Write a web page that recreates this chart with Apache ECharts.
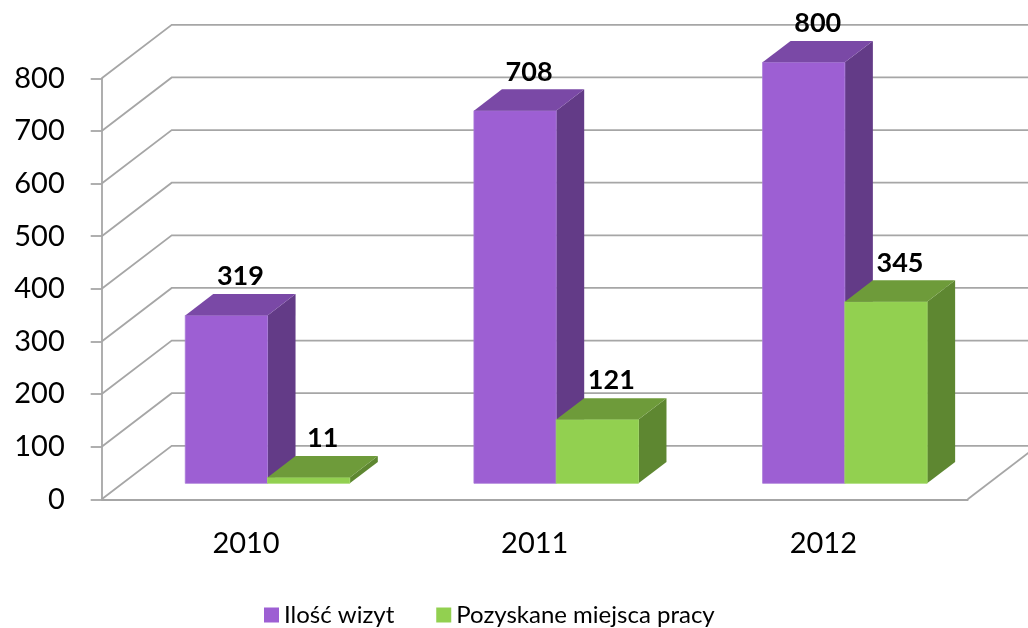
<!DOCTYPE html>
<html>
<head>
<meta charset="utf-8">
<script src="https://cdn.jsdelivr.net/npm/echarts@6/dist/echarts.min.js"></script>
<style>
  html, body { margin: 0; padding: 0; background: #fff; }
  #chart { width: 1028px; height: 628px; }
</style>
</head>
<body>
<div id="chart"></div>
<script>
var years = ['2010', '2011', '2012'];
var visits = [319, 708, 800];
var jobs = [11, 121, 345];
var yTicks = [0, 100, 200, 300, 400, 500, 600, 700, 800];
var seriesNames = ['Ilość wizyt', 'Pozyskane miejsca pracy'];

(function() {
  var font = 'Lato, "Open Sans", sans-serif';
  var gridColor = '#A6A6A6';

  // depth of the walls and of the bars, in pixels
  var wallDx = 70, wallDy = -53.5;
  var barOx = 21.5, barOy = -16;
  var barDx = 28, barDy = -21.4;
  var barRatio = 0.285;

  var purple = { front: '#9D5FD3', top: '#7A49A6', side: '#633B87', edge: '#A878D8' };
  var green = { front: '#92D050', top: '#6E9B3A', side: '#5E8731', edge: '#9ED862' };

  function wallItem(params, api) {
    var cs = params.coordSys;
    var y = api.coord([0, api.value(1)])[1];
    var x0 = cs.x;
    var children = [{
      type: 'polyline',
      shape: { points: [[x0, y], [x0 + wallDx, y + wallDy], [1100, y + wallDy]] },
      style: { stroke: gridColor, lineWidth: 1.8, fill: null }
    }];
    if (api.value(1) === 0) {
      var xr = cs.x + cs.width;
      children.push({
        type: 'line',
        shape: { x1: xr, y1: y, x2: xr + wallDx, y2: y + wallDy },
        style: { stroke: gridColor, lineWidth: 1.8 }
      });
    }
    return { type: 'group', children: children };
  }

  function barRenderer(side, pal) {
    return function(params, api) {
      var i = api.value(0), v = api.value(1);
      var base = api.coord([i, 0]);
      var yTop = api.coord([i, v])[1] + barOy;
      var w = api.size([1, 0])[0] * barRatio;
      var xL = base[0] + side * w + barOx;
      var xR = xL + w;
      var yB = base[1] + barOy;
      return {
        type: 'group',
        children: [{
          type: 'polygon',
          shape: { points: [[xR, yTop], [xR + barDx, yTop + barDy], [xR + barDx, yB + barDy], [xR, yB]] },
          style: { fill: pal.side }
        }, {
          type: 'rect',
          shape: { x: xL, y: yTop, width: w, height: yB - yTop },
          style: { fill: pal.front, stroke: pal.edge, lineWidth: 0.8 }
        }, {
          type: 'polygon',
          shape: { points: [[xL, yTop], [xR, yTop], [xR + barDx, yTop + barDy], [xL + barDx, yTop + barDy]] },
          style: { fill: pal.top }
        }, {
          type: 'text',
          style: {
            x: xL + w / 2 + barDx / 2,
            y: yTop + barDy - 17.5,
            text: String(v),
            align: 'center',
            verticalAlign: 'middle',
            fill: '#000',
            font: 'bold 27px ' + font
          }
        }]
      };
    };
  }

  var chart = echarts.init(document.getElementById('chart'), null, { renderer: 'canvas' });
  chart.setOption({
    animation: false,
    backgroundColor: '#fff',
    textStyle: { fontFamily: font },
    grid: { left: 101.7, top: 78.3, width: 866, height: 421 },
    legend: {
      data: seriesNames,
      left: 259,
      top: 598,
      icon: 'rect',
      itemWidth: 15,
      itemHeight: 15,
      itemGap: 42,
      textStyle: { fontSize: 24, color: '#000', fontFamily: font }
    },
    xAxis: {
      type: 'category',
      data: years,
      axisLine: { lineStyle: { color: gridColor, width: 1.8 } },
      axisTick: { length: 11, lineStyle: { color: gridColor, width: 1.8 } },
      axisLabel: { color: '#000', fontSize: 29, margin: 30 },
      splitLine: { show: false }
    },
    yAxis: {
      type: 'value',
      min: 0,
      max: 800,
      interval: 100,
      axisLine: { show: true, lineStyle: { color: gridColor, width: 1.8 } },
      axisTick: { show: true, length: 11, lineStyle: { color: gridColor, width: 1.8 } },
      axisLabel: { color: '#000', fontSize: 29, margin: 37 },
      splitLine: { show: false }
    },
    series: [{
      type: 'custom',
      name: 'walls',
      silent: true,
      z: 1,
      renderItem: wallItem,
      encode: { x: 0, y: 1 },
      data: yTicks.map(function(v) { return [0, v]; })
    }, {
      type: 'custom',
      name: seriesNames[0],
      z: 2,
      itemStyle: { color: purple.front },
      renderItem: barRenderer(-1, purple),
      encode: { x: 0, y: 1 },
      data: visits.map(function(v, i) { return [i, v]; })
    }, {
      type: 'custom',
      name: seriesNames[1],
      z: 3,
      itemStyle: { color: green.front },
      renderItem: barRenderer(0, green),
      encode: { x: 0, y: 1 },
      data: jobs.map(function(v, i) { return [i, v]; })
    }]
  });
  window.addEventListener('resize', function() { chart.resize(); });
})();
</script>
</body>
</html>
